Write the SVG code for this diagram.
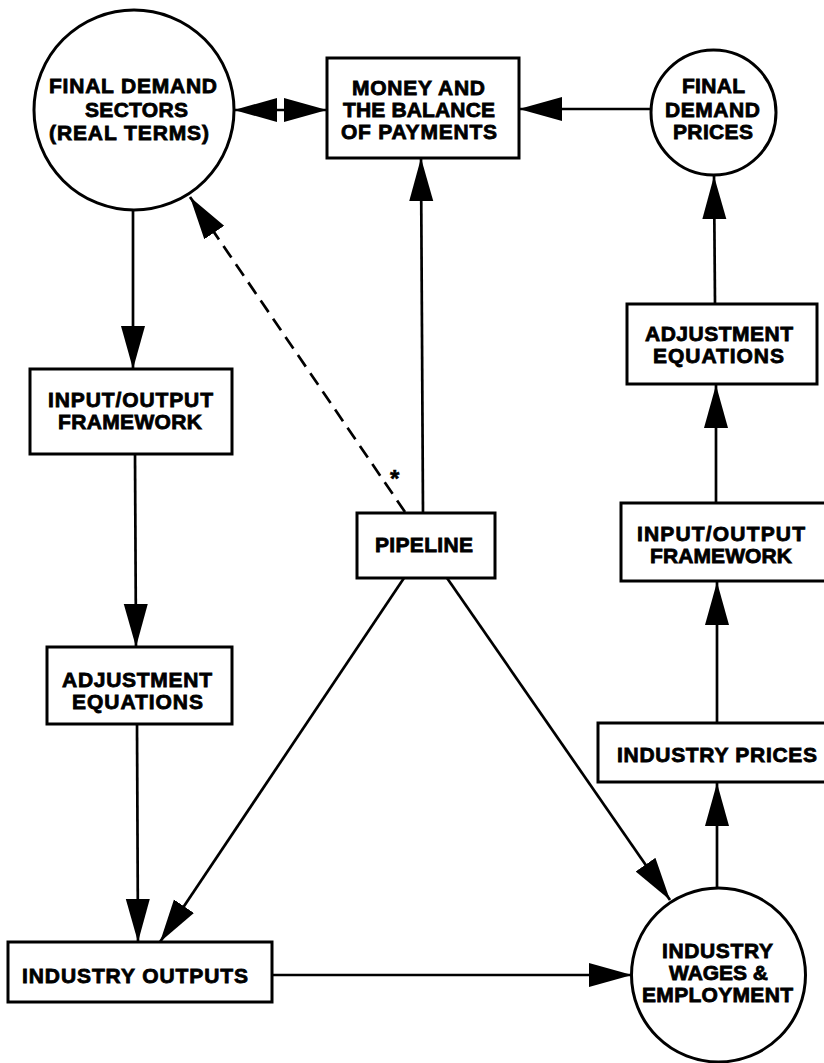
<svg xmlns="http://www.w3.org/2000/svg" width="824" height="1063" viewBox="0 0 824 1063">
<style>
.node{fill:#fff;stroke:#000;stroke-width:3}
.lbl{font-family:"Liberation Sans",Arial,sans-serif;font-weight:bold;font-size:21px;fill:#000;stroke:#000;stroke-width:0.8;lengthAdjust:spacingAndGlyphs}
.con{fill:none;stroke:#000;stroke-width:2.7}
.dash{stroke-dasharray:14 8}
</style>
<defs>
<marker id="ah" markerUnits="userSpaceOnUse" markerWidth="46" markerHeight="26" refX="43" refY="12" orient="auto">
<path d="M0,0 L43,12 L0,24 Z" fill="#000"/>
</marker>
</defs>
<rect width="824" height="1063" fill="#fff"/>

<g id="connectors">
<line class="con" x1="133" y1="211" x2="133" y2="369" marker-end="url(#ah)"/>
<line class="con" x1="135" y1="454" x2="136" y2="647" marker-end="url(#ah)"/>
<line class="con" x1="137" y1="724" x2="138" y2="942" marker-end="url(#ah)"/>
<line class="con" x1="404" y1="578" x2="160" y2="942" marker-end="url(#ah)"/>
<line class="con" x1="447" y1="578" x2="670" y2="900" marker-end="url(#ah)"/>
<line class="con" x1="272" y1="975" x2="632" y2="975" marker-end="url(#ah)"/>
<line class="con" x1="717" y1="888" x2="717" y2="783" marker-end="url(#ah)"/>
<line class="con" x1="717" y1="723" x2="717" y2="582" marker-end="url(#ah)"/>
<line class="con" x1="716" y1="503" x2="716" y2="385" marker-end="url(#ah)"/>
<line class="con" x1="715" y1="304" x2="714" y2="176" marker-end="url(#ah)"/>
<line class="con" x1="651" y1="109" x2="519" y2="109" marker-end="url(#ah)"/>
<line class="con" x1="423" y1="513" x2="421" y2="158" marker-end="url(#ah)"/>
<line class="con" x1="280" y1="110" x2="234" y2="110" marker-end="url(#ah)"/>
<line class="con" x1="280" y1="110" x2="327" y2="110" marker-end="url(#ah)"/>
<line class="con dash" x1="405" y1="512" x2="190" y2="197" marker-end="url(#ah)"/>
<text class="lbl" x="390" y="487" style="font-size:24px;stroke-width:0.6">*</text>
</g>

<g id="final-demand-sectors">
<circle class="node" cx="134" cy="110" r="100"/>
<text class="lbl" x="49" y="93" textLength="168">FINAL DEMAND</text>
<text class="lbl" x="85" y="117" textLength="103">SECTORS</text>
<text class="lbl" x="49" y="140" textLength="160">(REAL TERMS)</text>
</g>

<g id="money-balance">
<rect class="node" x="327" y="58" width="192" height="100"/>
<text class="lbl" x="352" y="95" textLength="133">MONEY AND</text>
<text class="lbl" x="343" y="117" textLength="152">THE BALANCE</text>
<text class="lbl" x="341" y="139" textLength="156">OF PAYMENTS</text>
</g>

<g id="final-demand-prices">
<circle class="node" cx="713.5" cy="112.5" r="62.5"/>
<text class="lbl" x="682" y="93" textLength="63">FINAL</text>
<text class="lbl" x="665" y="117" textLength="95">DEMAND</text>
<text class="lbl" x="673" y="139" textLength="80">PRICES</text>
</g>

<g id="io-framework-left">
<rect class="node" x="30" y="369" width="202" height="85"/>
<text class="lbl" x="48" y="407" textLength="165">INPUT/OUTPUT</text>
<text class="lbl" x="58" y="429" textLength="144">FRAMEWORK</text>
</g>

<g id="adjustment-left">
<rect class="node" x="47" y="647" width="185" height="77"/>
<text class="lbl" x="62" y="687" textLength="150">ADJUSTMENT</text>
<text class="lbl" x="72" y="709" textLength="131">EQUATIONS</text>
</g>

<g id="industry-outputs">
<rect class="node" x="8" y="942" width="264" height="60"/>
<text class="lbl" x="22" y="983" textLength="226">INDUSTRY OUTPUTS</text>
</g>

<g id="pipeline">
<rect class="node" x="357" y="513" width="138" height="65"/>
<text class="lbl" x="375" y="552" textLength="98">PIPELINE</text>
</g>

<g id="adjustment-right">
<rect class="node" x="627" y="304" width="190" height="80"/>
<text class="lbl" x="645" y="341" textLength="148">ADJUSTMENT</text>
<text class="lbl" x="653" y="363" textLength="131">EQUATIONS</text>
</g>

<g id="io-framework-right">
<rect class="node" x="621" y="503" width="215" height="78"/>
<text class="lbl" x="637" y="541" textLength="168">INPUT/OUTPUT</text>
<text class="lbl" x="650" y="563" textLength="142">FRAMEWORK</text>
</g>

<g id="industry-prices">
<rect class="node" x="598" y="723" width="240" height="59"/>
<text class="lbl" x="617" y="762" textLength="200">INDUSTRY PRICES</text>
</g>

<g id="industry-wages">
<circle class="node" cx="718.5" cy="975" r="87"/>
<text class="lbl" x="662" y="958" textLength="111">INDUSTRY</text>
<text class="lbl" x="669" y="980" textLength="99">WAGES &amp;</text>
<text class="lbl" x="642" y="1002" textLength="151">EMPLOYMENT</text>
</g>
</svg>
